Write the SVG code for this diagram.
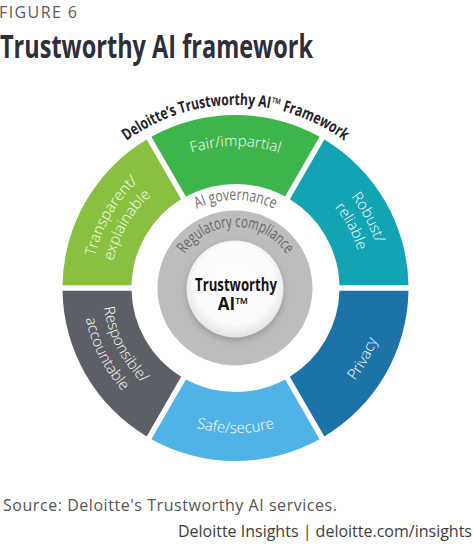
<svg xmlns="http://www.w3.org/2000/svg" xmlns:xlink="http://www.w3.org/1999/xlink" width="474" height="546" viewBox="0 0 474 546">
  <style>
    .seg-label { font-family: "Open Sans", "Liberation Sans", sans-serif; font-size: 15px; font-weight: 300; fill: #ffffff; }
    .head { font-family: "Open Sans", "Liberation Sans", sans-serif; }
    .fair { fill: #3db54a; }
    .transparent { fill: #89c03f; }
    .robust { fill: #12a3b5; }
    .privacy { fill: #1b73a8; }
    .safe { fill: #4fb3e6; }
    .responsible { fill: #5c5f66; }
  </style>
  <defs>
    <path id="sector" d="M408.48,285.25 A173,173 0 0 0 324.37,139.57 L289.86,199.34 A104,104 0 0 1 339.46,285.25 Z"/>
    <path id="p-frame" d="M85.6,183 A183,183 0 0 1 385.4,183"/>
    <path id="p-fair" d="M119.2,206.5 A142,142 0 0 1 351.8,206.5"/>
    <path id="p-safe" d="M116.7,371.2 A145,145 0 0 0 354.3,371.2"/>
    <path id="p-trans1" d="M105,349 A145,145 0 0 1 222.9,143.6"/>
    <path id="p-trans2" d="M122,340.8 A125,125 0 0 1 224.6,163.5"/>
    <path id="p-rob1" d="M253.3,142.1 A147,147 0 0 1 366.5,354.7"/>
    <path id="p-rob2" d="M251,161 A128,128 0 0 1 349.5,346.1"/>
    <path id="p-resp1" d="M118,225.6 A133,133 0 0 0 217,419.7"/>
    <path id="p-resp2" d="M100.7,216.2 A153,153 0 0 0 214.2,439.5"/>
    <path id="p-priv" d="M251.3,438.2 A151,151 0 0 0 371.2,221.8"/>
    <path id="p-gov" d="M163.4,237.5 A88,88 0 0 1 307.6,237.5"/>
    <path id="p-reg" d="M175.4,277.4 A61,61 0 0 1 295.6,277.4"/>
    <radialGradient id="disc" cx="50%" cy="45%" r="55%">
      <stop offset="0" stop-color="#ffffff"/>
      <stop offset="0.75" stop-color="#fbfbfb"/>
      <stop offset="1" stop-color="#e2e2e2"/>
    </radialGradient>
    <filter id="blur" x="-30%" y="-30%" width="160%" height="160%">
      <feGaussianBlur stdDeviation="3"/>
    </filter>
  </defs>

  <rect width="474" height="546" fill="#ffffff"/>

  <g id="header">
    <text x="-1" y="18" class="head" font-size="16" fill="#5a5a5a" textLength="78">FIGURE 6</text>
    <text x="0" y="58" class="head" font-size="32" font-weight="700" fill="#2e2e38" textLength="313" lengthAdjust="spacingAndGlyphs">Trustworthy AI framework</text>
  </g>

  <g id="framework-title">
    <text class="head" font-size="16" font-weight="700" fill="#23232b">
      <textPath href="#p-frame" xlink:href="#p-frame" startOffset="50%" text-anchor="middle" textLength="233" lengthAdjust="spacingAndGlyphs">Deloitte’s Trustworthy AI™ Framework</textPath>
    </text>
  </g>

  <g id="robust">
    <use href="#sector" xlink:href="#sector" class="robust"/>
    <text class="seg-label"><textPath href="#p-rob1" xlink:href="#p-rob1" startOffset="50%" text-anchor="middle">Robust/</textPath></text>
    <text class="seg-label"><textPath href="#p-rob2" xlink:href="#p-rob2" startOffset="50%" text-anchor="middle">reliable</textPath></text>
  </g>
  <g id="fair">
    <use href="#sector" xlink:href="#sector" class="fair" transform="rotate(-60 235.5 288)"/>
    <text class="seg-label"><textPath href="#p-fair" xlink:href="#p-fair" startOffset="50%" text-anchor="middle">Fair/impartial</textPath></text>
  </g>
  <g id="transparent">
    <use href="#sector" xlink:href="#sector" class="transparent" transform="rotate(-120 235.5 288)"/>
    <text class="seg-label"><textPath href="#p-trans1" xlink:href="#p-trans1" startOffset="50%" text-anchor="middle">Transparent/</textPath></text>
    <text class="seg-label"><textPath href="#p-trans2" xlink:href="#p-trans2" startOffset="50%" text-anchor="middle">explainable</textPath></text>
  </g>
  <g id="responsible">
    <use href="#sector" xlink:href="#sector" class="responsible" transform="rotate(-180 235.5 288)"/>
    <text class="seg-label"><textPath href="#p-resp1" xlink:href="#p-resp1" startOffset="50%" text-anchor="middle">Responsible/</textPath></text>
    <text class="seg-label"><textPath href="#p-resp2" xlink:href="#p-resp2" startOffset="50%" text-anchor="middle">accountable</textPath></text>
  </g>
  <g id="safe">
    <use href="#sector" xlink:href="#sector" class="safe" transform="rotate(-240 235.5 288)"/>
    <text class="seg-label"><textPath href="#p-safe" xlink:href="#p-safe" startOffset="50%" text-anchor="middle">Safe/secure</textPath></text>
  </g>
  <g id="privacy">
    <use href="#sector" xlink:href="#sector" class="privacy" transform="rotate(-300 235.5 288)"/>
    <text class="seg-label"><textPath href="#p-priv" xlink:href="#p-priv" startOffset="50%" text-anchor="middle">Privacy</textPath></text>
  </g>

  <g id="ai-governance">
    <text class="head" font-size="16" fill="#6e6e6e"><textPath href="#p-gov" xlink:href="#p-gov" startOffset="50%" text-anchor="middle" textLength="80" lengthAdjust="spacingAndGlyphs">AI governance</textPath></text>
  </g>

  <g id="regulatory-compliance">
    <circle cx="235" cy="288" r="77.5" fill="#bdbdbd"/>
    <text class="head" font-size="16" fill="#666666"><textPath href="#p-reg" xlink:href="#p-reg" startOffset="50%" text-anchor="middle" textLength="120" lengthAdjust="spacingAndGlyphs">Regulatory compliance</textPath></text>
  </g>

  <g id="trustworthy-ai">
    <circle cx="235" cy="292" r="49" fill="#8f8f8f" filter="url(#blur)" opacity="0.7"/>
    <circle cx="235" cy="289" r="48.5" fill="url(#disc)"/>
    <text x="236" y="291" class="head" font-size="17" font-weight="700" fill="#141414" text-anchor="middle" textLength="82" lengthAdjust="spacingAndGlyphs">Trustworthy</text>
    <text x="233" y="310" class="head" font-size="17" font-weight="700" fill="#141414" text-anchor="middle">AI™</text>
  </g>

  <g id="footer">
    <text x="3" y="511" class="head" font-size="16" fill="#555555" textLength="334">Source: Deloitte's Trustworthy AI services.</text>
    <text x="472" y="537" class="head" font-size="16" fill="#3d3d3d" text-anchor="end">Deloitte Insights | deloitte.com/insights</text>
  </g>
</svg>
